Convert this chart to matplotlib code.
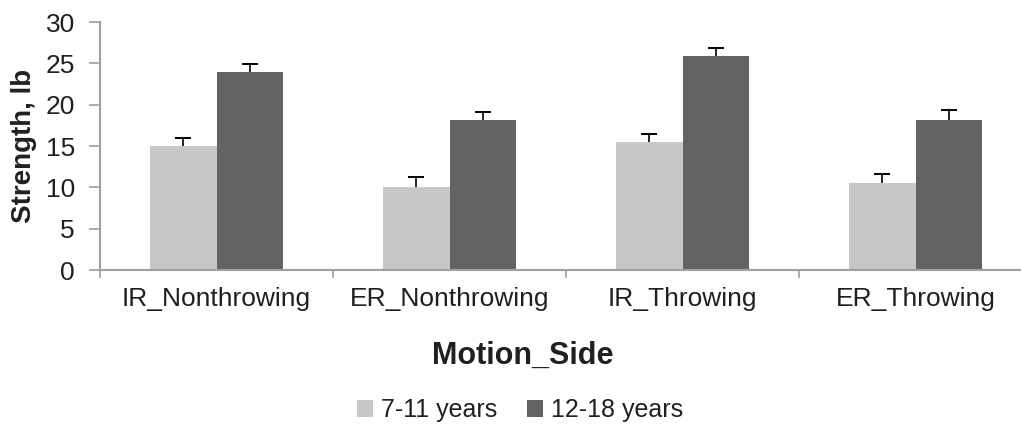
import matplotlib.pyplot as plt
import numpy as np

categories = ["IR_Nonthrowing", "ER_Nonthrowing", "IR_Throwing", "ER_Throwing"]
young = [15.0, 10.1, 15.5, 10.5]
young_err = [1.0, 1.1, 1.0, 1.1]
old = [24.0, 18.1, 25.9, 18.2]
old_err = [0.9, 1.0, 1.0, 1.1]
series_labels = ["7-11 years", "12-18 years"]

plt.rcParams['font.family'] = ['Liberation Sans', 'DejaVu Sans']
text_color = '#231f20'
axis_color = '#a0a0a0'

fig = plt.figure(figsize=(10.21, 4.25), dpi=100)
ax = fig.add_axes([100 / 1021, 1 - 270 / 425, 920 / 1021, 248 / 425])

x = np.arange(len(categories))
w = 0.285

def upper_err(xs, ys, errs):
    tops = np.array(ys) + np.array(errs)
    ax.vlines(xs, ys, tops, color='black', lw=1.2, zorder=3)
    ax.plot(xs, tops, ls='none', marker='_', ms=11, mew=1.4, color='black', zorder=3)

ax.bar(x - w / 2, young, w, color='#c6c7c9', label=series_labels[0])
ax.bar(x + w / 2, old, w, color='#636365', label=series_labels[1])
upper_err(x - w / 2, young, young_err)
upper_err(x + w / 2, old, old_err)

ax.set_xlim(-0.5, -0.5 + 920 / 233)
ax.set_ylim(0, 30)
ax.set_yticks(range(0, 31, 5))
ax.set_xticks(x)
ax.set_xticklabels(categories)
ax.set_xticks(np.arange(-0.5, 3.5, 1.0), minor=True)
ax.tick_params(axis='x', which='major', length=0, pad=12, labelsize=19, colors=text_color)
ax.tick_params(axis='x', which='minor', length=6, color=axis_color, width=1.2)
ax.tick_params(axis='y', length=8, color=axis_color, width=1.2, pad=10,
               labelsize=19, labelcolor=text_color)

for s in ['top', 'right']:
    ax.spines[s].set_visible(False)
for s in ['left', 'bottom']:
    ax.spines[s].set_color(axis_color)
    ax.spines[s].set_linewidth(1.5)

ax.set_ylabel("Strength, lb", fontsize=20, fontweight='bold', color=text_color, labelpad=6)
fig.text(523 / 1021, 1 - 356 / 425, "Motion_Side", fontsize=22, fontweight='bold',
         color=text_color, ha='center', va='center')

fig.legend(loc='center', bbox_to_anchor=(520 / 1021, 1 - 410 / 425), ncol=2,
           frameon=False, fontsize=18, handlelength=0.65, handleheight=0.65,
           handletextpad=0.3, columnspacing=1.2, labelcolor=text_color)

fig.savefig("out.png", dpi=100)
